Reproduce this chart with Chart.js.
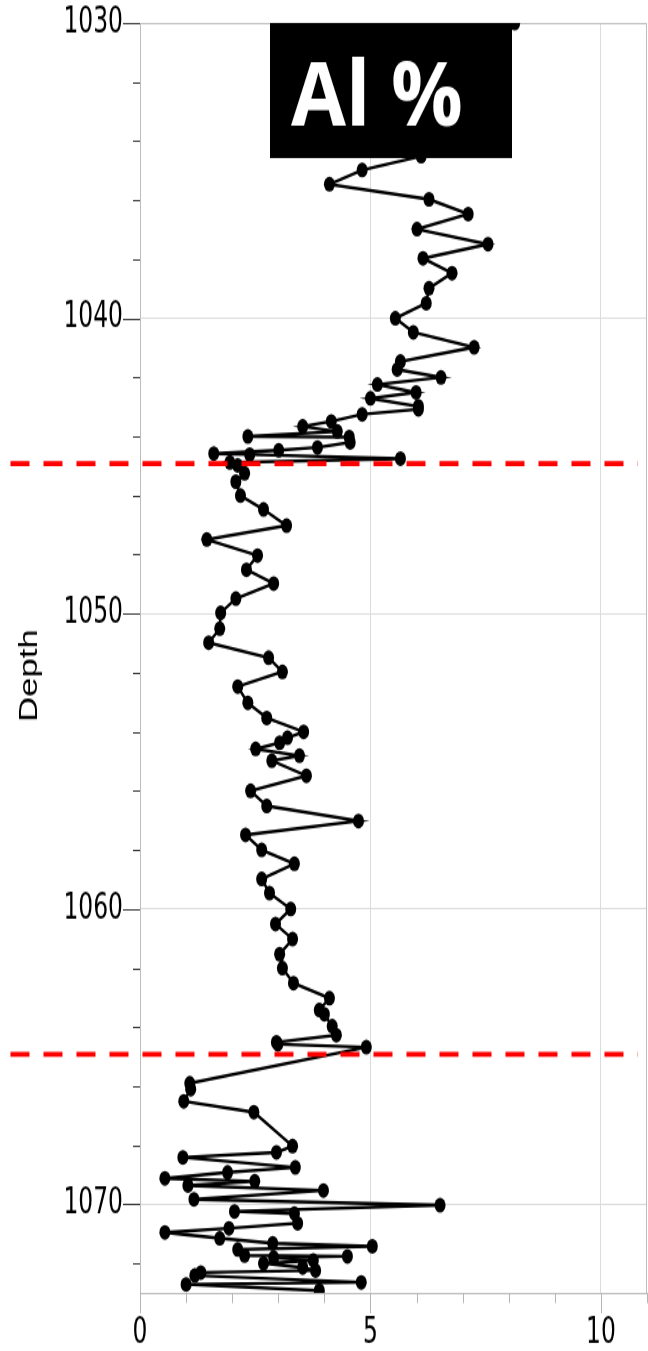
<!DOCTYPE html>
<html>
<head>
<meta charset="utf-8">
<title>Al % vs depth</title>
<script src="https://cdn.jsdelivr.net/npm/chart.js@4"></script>
<style>
  html { overflow: hidden; }
  html, body { margin: 0; padding: 0; background: #fff; }
  body { width: 648px; height: 1351px; }
  /* the log is drawn at 648x1000 and stretched down the page */
  #wrap { width: 648px; height: 1000px; transform: scaleY(1.351); transform-origin: 0 0; }
</style>
</head>
<body>
<div id="wrap"><canvas id="chart" width="648" height="1000"></canvas></div>
<script>
// Al % measured down the core, one reading per depth
const depths = [
  1030.0, 1030.5, 1031.0, 1031.5, 1032.0, 1032.5, 1033.0, 1033.5, 1034.0, 1034.51,
  1034.98, 1035.46, 1035.97, 1036.47, 1036.98, 1037.49, 1037.97, 1038.47, 1038.98, 1039.49,
  1040.0, 1040.47, 1040.98, 1041.46, 1041.73, 1042.0, 1042.24, 1042.51, 1042.71, 1042.98,
  1043.08, 1043.25, 1043.49, 1043.66, 1043.83, 1044.0, 1044.02, 1044.2, 1044.37, 1044.47,
  1044.58, 1044.61, 1044.75, 1044.88, 1044.98, 1045.25, 1045.53, 1046.0, 1046.47, 1047.02,
  1047.49, 1048.03, 1048.51, 1048.98, 1049.49, 1049.97, 1050.51, 1050.98, 1051.49, 1051.97,
  1052.47, 1053.02, 1053.53, 1054.0, 1054.2, 1054.37, 1054.58, 1054.81, 1054.98, 1055.49,
  1056.0, 1056.51, 1057.02, 1057.49, 1058.0, 1058.47, 1058.98, 1059.46, 1060.0, 1060.51,
  1061.02, 1061.53, 1062.0, 1062.51, 1063.02, 1063.42, 1063.56, 1063.97, 1064.27, 1064.51,
  1064.58, 1064.68, 1065.9, 1066.1, 1066.51, 1066.88, 1068.03, 1068.24, 1068.41, 1068.75,
  1068.92, 1069.12, 1069.22, 1069.36, 1069.53, 1069.83, 1070.03, 1070.24, 1070.31, 1070.64,
  1070.81, 1070.95, 1071.15, 1071.32, 1071.42, 1071.53, 1071.73, 1071.76, 1071.8, 1071.9,
  1072.0, 1072.14, 1072.24, 1072.31, 1072.41, 1072.64, 1072.71, 1072.92
];
const alValues = [
  8.13, 7.3, 6.6, 7.0, 6.2, 6.8, 5.9, 6.4, 5.8, 6.10,
  4.82, 4.11, 6.27, 7.12, 6.01, 7.55, 6.14, 6.77, 6.27, 6.21,
  5.54, 5.93, 7.25, 5.65, 5.58, 6.53, 5.15, 5.99, 5.00, 6.04,
  6.04, 4.82, 4.15, 3.53, 4.28, 2.34, 4.54, 4.56, 3.85, 3.01,
  1.60, 2.38, 5.65, 1.95, 2.12, 2.27, 2.08, 2.18, 2.68, 3.18,
  1.45, 2.55, 2.31, 2.90, 2.08, 1.75, 1.73, 1.49, 2.79, 3.09,
  2.12, 2.34, 2.75, 3.55, 3.20, 3.03, 2.51, 3.46, 2.86, 3.61,
  2.40, 2.75, 4.74, 2.29, 2.64, 3.35, 2.64, 2.81, 3.27, 2.94,
  3.31, 3.03, 3.09, 3.33, 4.11, 3.89, 4.00, 4.17, 4.26, 2.96,
  2.99, 4.91, 1.08, 1.10, 0.95, 2.47, 3.31, 2.96, 0.93, 3.37,
  1.90, 0.54, 2.49, 1.04, 3.98, 1.17, 6.51, 2.05, 3.35, 3.42,
  1.93, 0.54, 1.73, 2.88, 5.04, 2.12, 2.27, 4.50, 2.90, 3.76,
  2.68, 3.53, 3.81, 1.32, 1.19, 4.80, 1.00, 3.89
];

// unit boundaries marked across the log
const boundaryDepths = [1044.92, 1064.92];
const boundaryFrom = -2.81;
const boundaryTo = 10.8;

const DEPTH_MIN = 1030;
const DEPTH_MAX = 1073;
const AL_MIN = 0;
const AL_MAX = 11;

const TICK_FONT = { family: "'Liberation Sans Narrow', 'Arial Narrow', 'DejaVu Sans Condensed', sans-serif", size: 26 };

function gridColor(ctx) {
  if (!ctx.tick) return 'rgba(0,0,0,0)';
  const step = ctx.scale.axis === 'x' ? 5 : 10;
  return ctx.tick.value % step === 0 ? '#dcdcdc' : 'rgba(0,0,0,0)';
}

const frame = {
  id: 'frame',
  beforeDatasetsDraw(chart) {
    const { ctx, chartArea: a } = chart;
    ctx.save();
    ctx.strokeStyle = '#bdbdbd';
    ctx.lineWidth = 1;
    ctx.strokeRect(a.left + 0.5, a.top + 0.5, a.right - a.left - 1, a.bottom - a.top);
    ctx.restore();
  },
  afterDraw(chart) {
    const { ctx, chartArea: a, scales } = chart;
    ctx.save();
    ctx.lineWidth = 1;
    // depth ticks every 2, long at the labelled ones
    ctx.strokeStyle = '#3a3a3a';
    for (let d = DEPTH_MIN; d <= DEPTH_MAX; d += 2) {
      const y = Math.round(scales.y.getPixelForValue(d)) + 0.5;
      const len = d % 10 === 0 ? 17 : 7;
      ctx.beginPath();
      ctx.moveTo(a.left - len, y);
      ctx.lineTo(a.left, y);
      ctx.stroke();
    }
    // Al ticks every 1, long at 0, 5, 10
    ctx.strokeStyle = '#b5b5b5';
    for (let v = AL_MIN; v <= AL_MAX; v += 1) {
      const x = Math.round(scales.x.getPixelForValue(v)) + 0.5;
      const len = v % 5 === 0 ? 15 : 7.5;
      ctx.beginPath();
      ctx.moveTo(x, a.bottom);
      ctx.lineTo(x, a.bottom + len);
      ctx.stroke();
    }

    // axis title
    ctx.fillStyle = '#000';
    ctx.font = "25.6px 'Liberation Sans', Arial, sans-serif";
    ctx.textAlign = 'center';
    ctx.textBaseline = 'middle';
    ctx.translate(30, 500);
    ctx.rotate(-Math.PI / 2);
    ctx.fillText('Depth', 0, 0);
    ctx.restore();
  }
};

const titleBox = {
  id: 'titleBox',
  afterDatasetsDraw(chart) {
    const { ctx, chartArea: a } = chart;
    ctx.save();
    ctx.fillStyle = '#000';
    ctx.fillRect(270, a.top, 242, 117 - a.top);
    ctx.fillStyle = '#fff';
    ctx.font = "bold 67px 'Open Sans', sans-serif";
    ctx.textBaseline = 'alphabetic';
    const text = 'Al %';
    const w = ctx.measureText(text).width;
    ctx.translate(291, 92.5);
    ctx.scale(172 / w, 1);
    ctx.fillText(text, 0, 0);
    ctx.restore();
  }
};

const alPoints = depths.map((d, i) => ({ x: alValues[i], y: d }));

const boundarySets = boundaryDepths.map(d => ({
  data: [{ x: boundaryFrom, y: d }, { x: boundaryTo, y: d }],
  showLine: true,
  borderColor: '#ff0000',
  borderWidth: 3.7,
  borderDash: [19, 14],
  pointRadius: 0,
  clip: false,
  order: 0
}));

new Chart(document.getElementById('chart'), {
  type: 'scatter',
  data: {
    datasets: [
      ...boundarySets,
      {
        data: alPoints,
        showLine: true,
        borderColor: '#000',
        borderWidth: 2.4,
        backgroundColor: '#000',
        pointBackgroundColor: '#000',
        pointBorderWidth: 0,
        pointRadius: 5.5,
        clip: 0,
        order: 1
      }
    ]
  },
  options: {
    responsive: false,
    animation: false,
    devicePixelRatio: 1,
    layout: { autoPadding: false, padding: { top: 17, right: 1, left: 0, bottom: 0 } },
    plugins: { legend: { display: false }, tooltip: { enabled: false } },
    scales: {
      x: {
        type: 'linear',
        position: 'bottom',
        min: AL_MIN,
        max: AL_MAX,
        border: { display: false },
        grid: { color: gridColor, drawTicks: false },
        ticks: {
          stepSize: 1,
          autoSkip: false,
          maxRotation: 0,
          padding: 15,
          color: '#000',
          font: TICK_FONT,
          callback: v => (v % 5 === 0 ? v : '')
        },
        afterFit: s => {
          s.height = 43;
          s.paddingLeft = 0;
          s.paddingRight = 0;
        }
      },
      y: {
        type: 'linear',
        reverse: true,
        min: DEPTH_MIN,
        max: DEPTH_MAX,
        border: { display: false },
        grid: { color: gridColor, drawTicks: false },
        ticks: {
          stepSize: 2,
          autoSkip: false,
          padding: 17,
          color: '#000',
          font: TICK_FONT,
          callback: v => (v % 10 === 0 ? v : '')
        },
        afterFit: s => {
          s.width = 140;
          s.paddingTop = 0;
          s.paddingBottom = 0;
        }
      }
    }
  },
  plugins: [frame, titleBox]
});
</script>
</body>
</html>
